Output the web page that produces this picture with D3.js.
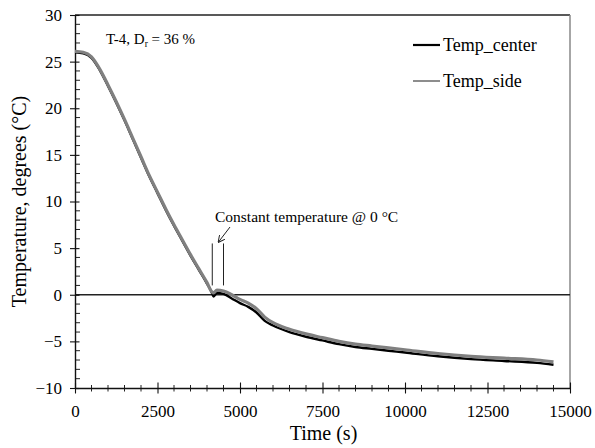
<!DOCTYPE html>
<html>
<head>
<meta charset="utf-8">
<title>Temperature vs time</title>
<style>
  body { margin: 0; background: #fff; }
</style>
</head>
<body>
<svg width="595" height="448" style="font-family: 'Liberation Serif', 'Times New Roman', serif"></svg>
<script src="https://cdn.jsdelivr.net/npm/d3@7"></script>
<script>
// time (s)
let times = [0, 250, 500, 750, 1000, 1250, 1500, 1750, 2000, 2250, 2500, 2750, 3000, 3250, 3500, 3750, 4000, 4150, 4200, 4300, 4500, 4750, 5000, 5250, 5500, 5750, 6000, 6500, 7000, 7500, 8000, 8500, 9000, 9500, 10000, 11000, 12000, 13000, 14000, 14500]
// temperature at centre (deg C)
let tempCenter = [26.0, 25.9, 25.4, 24.1, 22.4, 20.6, 18.7, 16.7, 14.7, 12.7, 10.9, 9.1, 7.4, 5.8, 4.2, 2.7, 1.2, 0.2, -0.2, 0.2, 0.1, -0.4, -0.9, -1.3, -1.9, -2.8, -3.3, -4.0, -4.5, -4.9, -5.3, -5.6, -5.8, -6.0, -6.2, -6.6, -6.9, -7.1, -7.3, -7.5]
// temperature at side (deg C)
let tempSide = [26.1, 26.0, 25.5, 24.2, 22.5, 20.7, 18.8, 16.8, 14.8, 12.8, 11.0, 9.2, 7.5, 5.9, 4.3, 2.8, 1.3, 0.3, 0.2, 0.5, 0.4, 0.0, -0.5, -0.9, -1.5, -2.4, -3.0, -3.7, -4.2, -4.6, -5.0, -5.3, -5.5, -5.7, -5.9, -6.3, -6.6, -6.8, -7.0, -7.2]

let xTicks = [0, 2500, 5000, 7500, 10000, 12500, 15000]
let yTicks = [-10, -5, 0, 5, 10, 15, 20, 25, 30]

let serif = "'Liberation Serif', 'Times New Roman', serif"
let svg = d3.select("svg")
let x = d3.scaleLinear().domain([0, 15000]).range([75, 570])
let y = d3.scaleLinear().domain([-10, 30]).range([388, 15])

//边框
svg.append("line").attr("x1", 75).attr("x2", 570).attr("y1", 15).attr("y2", 15)
  .attr("stroke", "#222").attr("stroke-width", 1.3)
svg.append("line").attr("x1", 570).attr("x2", 570).attr("y1", 15).attr("y2", 388)
  .attr("stroke", "#888").attr("stroke-width", 1.5)

//零线
svg.append("line").attr("x1", x(0)).attr("x2", x(15000)).attr("y1", y(0)).attr("y2", y(0))
  .attr("stroke", "#222").attr("stroke-width", 1.3)

//次刻度
let minorX = d3.range(0, 15001, 500).filter(d => d % 2500 != 0)
svg.append("g").selectAll("line").data(minorX).enter().append("line")
  .attr("x1", d => x(d)).attr("x2", d => x(d)).attr("y1", 385).attr("y2", 391.5)
  .attr("stroke", "#222").attr("stroke-width", 1)
let minorY = d3.range(-10, 31, 1).filter(d => d % 5 != 0)
svg.append("g").selectAll("line").data(minorY).enter().append("line")
  .attr("x1", 75).attr("x2", 80).attr("y1", d => y(d)).attr("y2", d => y(d))
  .attr("stroke", "#222").attr("stroke-width", 1)

//坐标轴
let gx = svg.append("g").attr("transform", "translate(0,388)")
  .call(d3.axisBottom(x).tickValues(xTicks).tickFormat(d3.format("d")).tickSize(5.5).tickPadding(11).tickSizeOuter(0))
gx.selectAll(".tick line").attr("y1", -5.5)
let gy = svg.append("g").attr("transform", "translate(75,0)")
  .call(d3.axisLeft(y).tickValues(yTicks).tickFormat(d3.format("d")).tickSize(5).tickPadding(8).tickSizeOuter(0))
gy.selectAll(".tick line").attr("x1", 4.5)
gx.attr("font-family", null).attr("font-size", null)
gy.attr("font-family", null).attr("font-size", null)
svg.selectAll(".domain").attr("stroke", "#111").attr("stroke-width", 1.4)
svg.selectAll(".tick line").attr("stroke", "#111").attr("stroke-width", 1.1)
svg.selectAll(".tick text").style("font-family", serif).style("font-size", "17px").attr("fill", "#000")

//曲线
let line = d3.line().curve(d3.curveMonotoneX)
svg.append("path").attr("fill", "none").attr("stroke", "#000").attr("stroke-width", 2.4)
  .attr("d", line.x((d, i) => x(times[i])).y(d => y(d))(tempCenter))
svg.append("path").attr("fill", "none").attr("stroke", "#808080").attr("stroke-width", 3.2)
  .attr("d", line.x((d, i) => x(times[i])).y(d => y(d))(tempSide))

//标注
svg.append("line").attr("x1", x(4160)).attr("x2", x(4160)).attr("y1", y(5.5)).attr("y2", y(1.0))
  .attr("stroke", "#222").attr("stroke-width", 1)
svg.append("line").attr("x1", x(4500)).attr("x2", x(4500)).attr("y1", y(5.5)).attr("y2", y(1.0))
  .attr("stroke", "#222").attr("stroke-width", 1)
svg.append("defs").append("marker").attr("id", "ah").attr("viewBox", "0 0 10 10")
  .attr("refX", 9).attr("refY", 5).attr("markerWidth", 7).attr("markerHeight", 7).attr("orient", "auto")
  .append("path").attr("d", "M0,0 L10,5 L0,10").attr("fill", "none").attr("stroke", "#222").attr("stroke-width", 1.4)
svg.append("line").attr("x1", 230).attr("y1", 227).attr("x2", 218.5).attr("y2", 242)
  .attr("stroke", "#222").attr("stroke-width", 1).attr("marker-end", "url(#ah)")
svg.append("text").attr("x", 215).attr("y", 222).style("font-family", serif).style("font-size", "15.5px")
  .text("Constant temperature @ 0 °C")

let t1 = svg.append("text").attr("x", 106).attr("y", 44).style("font-family", serif).style("font-size", "15px")
t1.append("tspan").text("T-4, D")
t1.append("tspan").style("font-size", "9.5px").attr("dy", 3).text("r")
t1.append("tspan").attr("dy", -3).text(" = 36 %")

//图例
let legend = [["Temp_center", "#000", 2.2], ["Temp_side", "#808080", 1.8]]
legend.forEach((d, i) => {
  let ly = 45 + i * 36
  svg.append("line").attr("x1", 413).attr("x2", 440).attr("y1", ly).attr("y2", ly)
    .attr("stroke", d[1]).attr("stroke-width", d[2])
  svg.append("text").attr("x", 443).attr("y", ly + 6).style("font-family", serif).style("font-size", "18px").text(d[0])
})

//轴标题
svg.append("text").attr("x", x(7500) + 1).attr("y", 440).attr("text-anchor", "middle")
  .style("font-family", serif).style("font-size", "20px").text("Time (s)")
svg.append("text").attr("transform", "translate(26,201.5) rotate(-90)").attr("text-anchor", "middle")
  .style("font-family", serif).style("font-size", "20px").text("Temperature, degrees (°C)")
</script>
</body>
</html>
